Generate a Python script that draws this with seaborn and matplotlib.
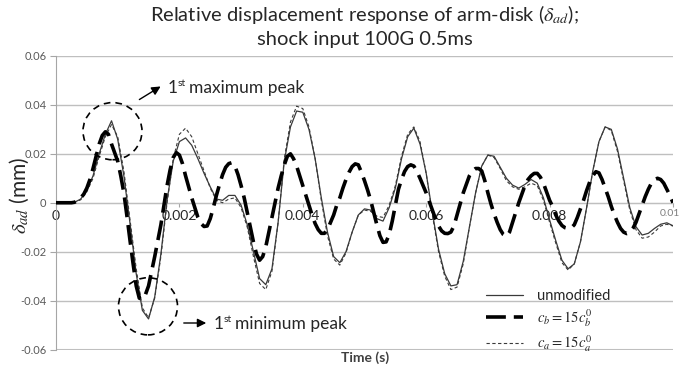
import numpy as np
import pandas as pd
import matplotlib
matplotlib.use("Agg")
import matplotlib.pyplot as plt
from matplotlib.patches import Ellipse
import seaborn as sns

# time axes (s): 0.1 ms steps for the slow curves, 0.05 ms for the fast c_b curve
time_s = np.round(np.arange(101) * 0.0001, 5)
time_fine_s = np.round(np.arange(201) * 0.00005, 6)

# relative displacement (mm)
unmodified = [
    0, 0, 0, 0.0002, 0.0015, 0.005, 0.011, 0.020, 0.028, 0.0335,
    0.026, 0.011, -0.0085, -0.029, -0.044, -0.0475, -0.0385, -0.021, 0.001, 0.017,
    0.025, 0.0265, 0.0235, 0.018, 0.012, 0.0065, 0.0015, 0.001, 0.003, 0.003,
    -0.001, -0.009, -0.020, -0.031, -0.0335, -0.027, -0.008, 0.017, 0.031, 0.0375,
    0.037, 0.030, 0.018, 0.002, -0.012, -0.022, -0.0245, -0.020, -0.012, -0.005,
    -0.0025, -0.003, -0.0065, -0.0075, -0.002, 0.006, 0.018, 0.027, 0.0305, 0.024,
    0.012, -0.004, -0.019, -0.029, -0.034, -0.0335, -0.024, -0.010, 0.004, 0.015,
    0.0195, 0.019, 0.0145, 0.010, 0.0072, 0.006, 0.0075, 0.0095, 0.008, 0.002,
    -0.007, -0.0155, -0.0235, -0.027, -0.025, -0.016, -0.002, 0.013, 0.025, 0.031,
    0.030, 0.022, 0.010, -0.002, -0.0098, -0.0132, -0.0125, -0.0105, -0.0088, -0.0082,
    -0.0094,
]
ca_mod = [
    0, 0, 0, 0.0002, 0.0012, 0.0045, 0.010, 0.019, 0.027, 0.032,
    0.027, 0.013, -0.007, -0.027, -0.043, -0.047, -0.039, -0.022, 0.000, 0.018,
    0.028, 0.0305, 0.027, 0.020, 0.013, 0.006, 0.001, 0.000, 0.0015, 0.002,
    -0.002, -0.010, -0.022, -0.033, -0.0355, -0.028, -0.008, 0.018, 0.033, 0.0395,
    0.0385, 0.031, 0.018, 0.001, -0.0135, -0.023, -0.0255, -0.0205, -0.012, -0.005,
    -0.003, -0.0035, -0.0055, -0.006, -0.001, 0.007, 0.019, 0.028, 0.031, 0.025,
    0.012, -0.005, -0.020, -0.030, -0.0355, -0.0345, -0.025, -0.010, 0.004, 0.015,
    0.0195, 0.0185, 0.014, 0.009, 0.0065, 0.0055, 0.0065, 0.008, 0.007, 0.001,
    -0.008, -0.0165, -0.0245, -0.0275, -0.025, -0.016, -0.002, 0.013, 0.025, 0.031,
    0.0295, 0.021, 0.009, -0.003, -0.011, -0.0145, -0.014, -0.012, -0.0095, -0.0088,
    -0.0095,
]
cb_mod = [
    0, 0, 0, 0, 0, 0, 0.0002, 0.0008, 0.002, 0.0035,
    0.006, 0.0095, 0.014, 0.019, 0.024, 0.0275, 0.029, 0.028, 0.024, 0.0205,
    0.017, 0.011, 0.004, -0.0055, -0.0155, -0.025, -0.034, -0.039, -0.0395, -0.0375,
    -0.034, -0.028, -0.022, -0.0155, -0.009, -0.001, 0.007, 0.0135, 0.0185, 0.0205,
    0.0195, 0.016, 0.011, 0.0065, 0.002, -0.002, -0.006, -0.0085, -0.0097, -0.0095,
    -0.0065, -0.002, 0.003, 0.0075, 0.0115, 0.0145, 0.016, 0.0164, 0.015, 0.0115,
    0.007, 0.002, -0.004, -0.010, -0.016, -0.021, -0.0235, -0.022, -0.018, -0.012,
    -0.006, 0.0, 0.006, 0.011, 0.0155, 0.019, 0.020, 0.018, 0.015, 0.011,
    0.007, 0.003, -0.001, -0.005, -0.0085, -0.011, -0.0125, -0.0125, -0.011, -0.008,
    -0.005, -0.001, 0.002, 0.006, 0.0095, 0.0125, 0.0148, 0.0159, 0.0155, 0.0125,
    0.009, 0.0052, 0.001, -0.004, -0.009, -0.0135, -0.0162, -0.016, -0.013, -0.0075,
    -0.001, 0.0055, 0.0095, 0.0128, 0.0148, 0.0155, 0.015, 0.0128, 0.010, 0.007,
    0.004, 0.0005, -0.003, -0.0065, -0.0095, -0.0115, -0.0125, -0.0126, -0.012, -0.0095,
    -0.005, -0.0005, 0.004, 0.0075, 0.011, 0.013, 0.014, 0.014, 0.013, 0.009,
    0.004, -0.0005, -0.0045, -0.008, -0.011, -0.013, -0.0138, -0.012, -0.008, -0.004,
    0.0, 0.0035, 0.007, 0.0095, 0.011, 0.012, 0.012, 0.0105, 0.008, 0.0045,
    0.001, -0.0016, -0.005, -0.0075, -0.0093, -0.0102, -0.0105, -0.0103, -0.009, -0.006,
    -0.0025, 0.001, 0.005, 0.0085, 0.011, 0.0127, 0.0122, 0.0095, 0.006, 0.0025,
    -0.0015, -0.005, -0.008, -0.0105, -0.012, -0.0126, -0.0122, -0.0105, -0.008, -0.0045,
    -0.001, 0.0025, 0.0055, 0.008, 0.0095, 0.010, 0.0095, 0.008, 0.0055, 0.003,
    0.0,
]

series_labels = ["unmodified", r"$c_b = 15c_b^0$", r"$c_a = 15c_a^0$"]
x_ticks = [0, 0.002, 0.004, 0.006, 0.008, 0.01]
x_tick_labels = ["0", "0.002", "0.004", "0.006", "0.008", "0.01"]
y_ticks = [-0.06, -0.04, -0.02, 0, 0.02, 0.04, 0.06]
y_tick_labels = ["-0.06", "-0.04", "-0.02", "0", "0.02", "0.04", "0.06"]

df = pd.DataFrame({"t": time_s, "unmod": unmodified, "ca": ca_mod})
df_fine = pd.DataFrame({"t": time_fine_s, "cb": cb_mod})

sns.set_style("white")
plt.rcParams["font.family"] = ["Lato", "DejaVu Sans"]
plt.rcParams["mathtext.fontset"] = "stix"

W, H = 685, 370
fig = plt.figure(figsize=(W / 100, H / 100), dpi=100)
ax = fig.add_axes([56 / W, 1 - 349.5 / H, (673 - 56) / W, (349.5 - 56) / H])


def fx(px):
    return px / W


def fy(py):
    return 1 - py / H


sns.lineplot(data=df, x="t", y="unmod", ax=ax, color="#3a3a3a", lw=0.9,
             label=series_labels[0], zorder=3)
sns.lineplot(data=df_fine, x="t", y="cb", ax=ax, color="black", lw=2.6,
             linestyle=(0, (5.5, 2.2)), label=series_labels[1], zorder=4)
sns.lineplot(data=df, x="t", y="ca", ax=ax, color="#3a3a3a", lw=0.8,
             linestyle=(0, (3, 2.2)), label=series_labels[2], zorder=3)

ax.set_xlim(0, 0.01)
ax.set_ylim(-0.06, 0.06)
ax.set_yticks(y_ticks)
ax.set_yticklabels(y_tick_labels, fontsize=8, color="#595959")
ax.set_xticks(x_ticks)
# last label is drawn separately, nudged inward so it stays on the canvas
ax.set_xticklabels(x_tick_labels[:-1] + [""], fontsize=6.5, color="#7f7f7f")
ax.annotate(x_tick_labels[-1], xy=(x_ticks[-1], 0), xytext=(-2, -4.5),
            textcoords="offset points", ha="center", va="top",
            fontsize=7.5, color="#7f7f7f", annotation_clip=False, zorder=6)
ax.yaxis.grid(True, color="#bfbfbf", lw=1)
ax.xaxis.grid(False)
ax.set_axisbelow(True)

for side in ["top", "right"]:
    ax.spines[side].set_visible(False)
ax.spines["left"].set_color("#a6a6a6")
ax.spines["bottom"].set_position(("data", 0))
ax.spines["bottom"].set_color("#bfbfbf")
ax.tick_params(axis="y", length=4, color="#a6a6a6", pad=3, left=True)
ax.tick_params(axis="x", length=3, color="#a6a6a6", pad=2, bottom=True)
ax.axhline(-0.06, color="#bfbfbf", lw=1.5, zorder=1)

ax.set_xlabel("")
ax.set_ylabel("")
fig.text(fx(365), fy(358), "Time (s)", ha="center", va="center",
         fontsize=10, fontweight="bold", color="#404040")
fig.text(fx(19), fy(195), r"$\delta_{ad}$ (mm)", ha="center", va="center",
         rotation=90, fontsize=15, color="#262626")

fig.text(fx(365), fy(14), r"Relative displacement response of arm-disk ($\delta_{ad}$);",
         ha="center", va="center", fontsize=14.5, color="#262626")
fig.text(fx(365), fy(40), "shock input 100G 0.5ms",
         ha="center", va="center", fontsize=14.5, color="#262626")

# peak circles
for cx, cy in [((112.5 - 56) / 61700, (202.7 - 131.3) * 0.02 / 48.8),
               ((148 - 56) / 61700, (202.7 - 306) * 0.02 / 48.8)]:
    ax.add_patch(Ellipse((cx, cy), 59 / 61700, 57 * 0.02 / 48.8, fill=False,
                         ec="black", lw=1.2, ls=(0, (4, 3)), zorder=5))

# arrows + texts
ax.annotate("", xy=(fx(163), fy(85)), xytext=(fx(137), fy(101)),
            xycoords="figure fraction", textcoords="figure fraction",
            arrowprops=dict(arrowstyle="-|>", color="black", lw=1, mutation_scale=13))
ax.annotate("", xy=(fx(209), fy(323)), xytext=(fx(181), fy(323)),
            xycoords="figure fraction", textcoords="figure fraction",
            arrowprops=dict(arrowstyle="-|>", color="black", lw=1, mutation_scale=13))
for px, py, word in [(168, 88, "maximum peak"), (214, 324, "minimum peak")]:
    fig.text(fx(px), fy(py), "1", ha="left", va="center", fontsize=12.5, color="#262626")
    fig.text(fx(px + 9.5), fy(py - 5), "st", ha="left", va="center", fontsize=7.5, color="#262626")
    fig.text(fx(px + 21), fy(py), word, ha="left", va="center", fontsize=12.5, color="#262626")

leg = ax.legend(loc="upper left", bbox_to_anchor=(fx(473), fy(276)),
                bbox_transform=fig.transFigure, frameon=False, fontsize=10.5,
                handlelength=2.5, handletextpad=1.0, labelspacing=0.3)
for txt in leg.get_texts():
    txt.set_color("#262626")

fig.savefig("out.png", dpi=100)
